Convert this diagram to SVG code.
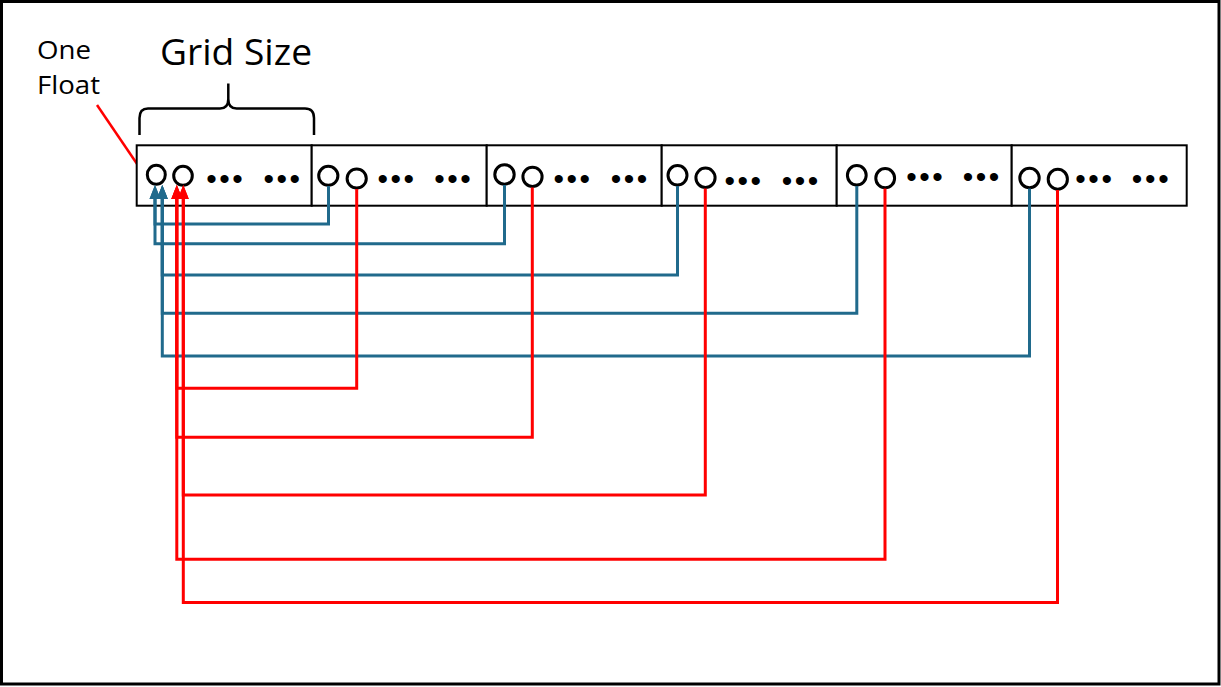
<svg xmlns="http://www.w3.org/2000/svg" width="1221" height="687" viewBox="0 0 1221 687">
<style>
.cell{fill:#fff;stroke:#000;stroke-width:2}
.ring{fill:none;stroke:#000;stroke-width:3}
.dots{font-family:"Liberation Sans",Arial,sans-serif;font-size:30px;fill:#000;text-anchor:middle}
.lbl{font-family:"Open Sans","Noto Sans",sans-serif;fill:#000}
.blue{fill:none;stroke:#206A8C;stroke-width:3;marker-end:url(#ab)}
.red{fill:none;stroke:#FF0000;stroke-width:3;marker-end:url(#ar)}
</style>
<defs>
<marker id="ab" markerUnits="userSpaceOnUse" markerWidth="14" markerHeight="11" refX="0" refY="5.5" orient="auto" overflow="visible"><path d="M0,0 L14,5.5 L0,11 z" fill="#206A8C"/></marker>
<marker id="ar" markerUnits="userSpaceOnUse" markerWidth="14" markerHeight="11" refX="0" refY="5.5" orient="auto" overflow="visible"><path d="M0,0 L14,5.5 L0,11 z" fill="#FF0000"/></marker>
</defs>
<rect x="0" y="0" width="1221" height="687" fill="#fff"/>
<rect x="1.5" y="1.5" width="1217.5" height="682.5" fill="none" stroke="#000" stroke-width="3"/>

<g id="labels">
<text class="lbl" x="37" y="58.5" font-size="26" textLength="54" lengthAdjust="spacingAndGlyphs">One</text>
<text class="lbl" x="37" y="93.5" font-size="26" textLength="63" lengthAdjust="spacingAndGlyphs">Float</text>
<text class="lbl" x="160" y="65" font-size="36" textLength="152" lengthAdjust="spacingAndGlyphs">Grid Size</text>
<path d="M139.5,135 L139.5,118 Q139.5,108.5 148,108.5 L220,108.5 Q228.3,108.5 228.3,99 L228.3,83.5 M228.3,99 Q228.3,108.5 236.6,108.5 L305,108.5 Q314,108.5 314,118 L314,135" fill="none" stroke="#000" stroke-width="2.5"/>
<line x1="97" y1="105" x2="150" y2="183" stroke="#FF0000" stroke-width="2.5"/>
</g>

<g id="grid1">
<rect class="cell" x="136.7" y="145.3" width="175" height="60.4"/>
<ellipse class="ring" cx="156.3" cy="174.8" rx="9" ry="9.5"/>
<ellipse class="ring" cx="183" cy="175.8" rx="9.3" ry="9.5"/>
<text class="dots" x="211.4 224.4 237.4 253 268.7 281.7 294.7" y="189.2">••• •••</text>
</g>
<g id="grid2">
<rect class="cell" x="311.7" y="145.3" width="175" height="60.4"/>
<ellipse class="ring" cx="328.3" cy="175.8" rx="9.6" ry="9.5"/>
<ellipse class="ring" cx="356.7" cy="178.5" rx="9.6" ry="9.5"/>
<text class="dots" x="382.7 395.7 408.7 424 439.4 452.4 465.4" y="188.9">••• •••</text>
</g>
<g id="grid3">
<rect class="cell" x="486.7" y="145.3" width="175" height="60.4"/>
<ellipse class="ring" cx="504.5" cy="174.5" rx="9.7" ry="9.7"/>
<ellipse class="ring" cx="532.5" cy="176.8" rx="9.6" ry="9.6"/>
<text class="dots" x="558.7 571.7 584.7 600 616 629 642" y="188.9">••• •••</text>
</g>
<g id="grid4">
<rect class="cell" x="661.7" y="145.3" width="175" height="60.4"/>
<ellipse class="ring" cx="677.5" cy="175.3" rx="9.5" ry="9.8"/>
<ellipse class="ring" cx="705.5" cy="177.8" rx="9.6" ry="9.7"/>
<text class="dots" x="729.7 742.7 755.7 771 787 800 813" y="190.9">••• •••</text>
</g>
<g id="grid5">
<rect class="cell" x="836.7" y="145.3" width="175" height="60.4"/>
<ellipse class="ring" cx="856.8" cy="175.3" rx="9.4" ry="9.8"/>
<ellipse class="ring" cx="885.2" cy="178.2" rx="9.4" ry="9.6"/>
<text class="dots" x="911.4 924.4 937.4 953 968 981 994" y="186.6">••• •••</text>
</g>
<g id="grid6">
<rect class="cell" x="1011.7" y="145.3" width="175" height="60.4"/>
<ellipse class="ring" cx="1029.5" cy="178" rx="9.7" ry="9.8"/>
<ellipse class="ring" cx="1057.8" cy="179.2" rx="9.6" ry="10"/>
<text class="dots" x="1080.4 1093.6 1106.8 1122 1137 1150.3 1163.6" y="188.9">••• •••</text>
</g>

<g id="connectors">
<path class="blue" d="M328.5,186 V224 H155 V199"/>
<path class="blue" d="M504.5,185 V243.8 H155 V199"/>
<path class="blue" d="M677.5,186 V275 H162.3 V199"/>
<path class="blue" d="M856.8,186 V313.3 H162.3 V199"/>
<path class="blue" d="M1029.5,188.5 V356 H162.3 V199"/>
<path class="red" d="M356.7,189 V388.3 H176.8 V199"/>
<path class="red" d="M532.3,187.5 V437.3 H176.8 V199"/>
<path class="red" d="M705.3,188.5 V495 H183.3 V199"/>
<path class="red" d="M885,188.5 V559.3 H176.8 V199"/>
<path class="red" d="M1057.5,190 V602.5 H183.3 V199"/>
</g>
</svg>
